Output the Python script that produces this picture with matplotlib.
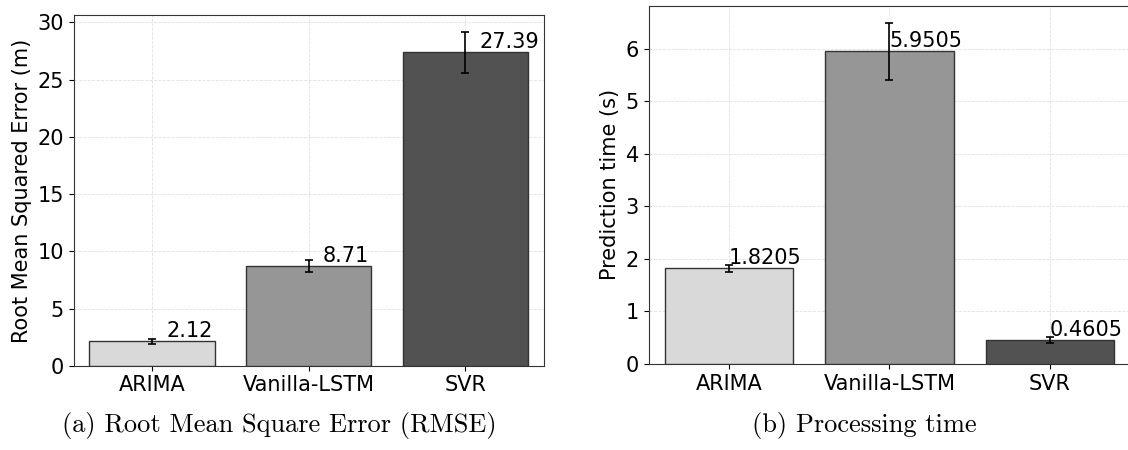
import matplotlib
matplotlib.use('Agg')
import matplotlib.pyplot as plt
import numpy as np

models = ['ARIMA', 'Vanilla-LSTM', 'SVR']
rmse = [2.12, 8.71, 27.39]
rmse_err = [0.25, 0.56, 1.78]
rmse_labels = ['2.12', '8.71', '27.39']
ptime = [1.8205, 5.9505, 0.4605]
ptime_err = [0.06, 0.545, 0.053]
ptime_labels = ['1.8205', '5.9505', '0.4605']
colors = ['#d9d9d9', '#969696', '#525252']

plt.rcParams['font.size'] = 15

fig = plt.figure(figsize=(11.28, 4.5), dpi=100)
ax1 = fig.add_axes([0.0652, 0.1873, 0.4168, 0.7787])
ax2 = fig.add_axes([0.5751, 0.1911, 0.4269, 0.7962])

x = np.arange(len(models))

def draw(ax, vals, errs, labels, ylabel, dx):
    ax.bar(x, vals, width=0.8, color=colors, edgecolor='#333333', linewidth=1,
           yerr=errs, capsize=3, error_kw=dict(ecolor='black', elinewidth=1.2, capthick=1.2),
           zorder=3)
    # value labels just above each bar
    for xi, v, lab in zip(x, vals, labels):
        ax.text(xi + dx, v, lab, ha='left', va='bottom', fontsize=15, zorder=4)
    ax.set_xticks(x)
    ax.set_xticklabels(models)
    ax.set_xlim(-0.5, 2.5)
    ax.set_ylabel(ylabel)
    ax.grid(True, linestyle='--', linewidth=0.6, color='#cccccc', alpha=0.6, zorder=0)
    ax.set_axisbelow(True)
    for s in ax.spines.values():
        s.set_color('#333333')

draw(ax1, rmse, rmse_err, rmse_labels, 'Root Mean Squared Error (m)', 0.09)
ax1.set_yticks([0, 5, 10, 15, 20, 25, 30])
draw(ax2, ptime, ptime_err, ptime_labels, 'Prediction time (s)', 0.0)

fig.text(0.248, 0.055, '(a) Root Mean Square Error (RMSE)', family='cmr10',
         fontsize=19, ha='center', va='center')
fig.text(0.766, 0.055, '(b) Processing time', family='cmr10',
         fontsize=19, ha='center', va='center')

fig.savefig('out.png', dpi=100)
